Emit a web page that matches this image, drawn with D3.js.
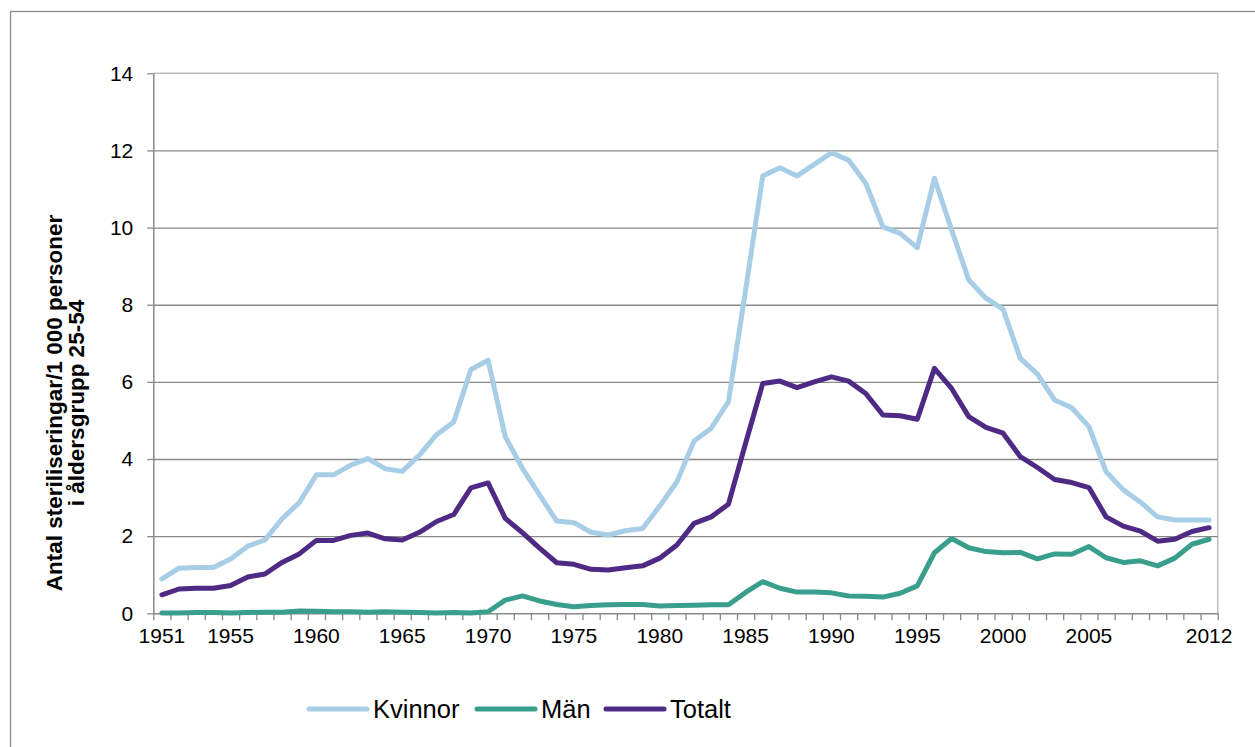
<!DOCTYPE html>
<html>
<head>
<meta charset="utf-8">
<script src="https://cdn.jsdelivr.net/npm/d3@7"></script>
<style>
  body { margin: 0; background: #fff; }
  svg { display: block; font-family: Arial, "Liberation Sans", sans-serif; }
  .tick text { fill: #000; font-size: 21px; font-family: Arial, "Liberation Sans", sans-serif; }
</style>
</head>
<body>
<svg id="chart" width="1255" height="747"></svg>
<script>
// Years on the category axis
const years = [
  1951, 1952, 1953, 1954, 1955, 1956, 1957, 1958, 1959, 1960,
  1961, 1962, 1963, 1964, 1965, 1966, 1967, 1968, 1969, 1970,
  1971, 1972, 1973, 1974, 1975, 1976, 1977, 1978, 1979, 1980,
  1981, 1982, 1983, 1984, 1985, 1986, 1987, 1988, 1989, 1990,
  1991, 1992, 1993, 1994, 1995, 1996, 1997, 1998, 1999, 2000,
  2001, 2002, 2003, 2004, 2005, 2006, 2007, 2008, 2009, 2010,
  2011, 2012
];

// Sterilisations per 1 000 persons, age group 25-54
const kvinnor = [
  0.89, 1.17, 1.19, 1.19, 1.41, 1.74, 1.90, 2.45, 2.87, 3.59,
  3.59, 3.84, 4.01, 3.75, 3.68, 4.10, 4.63, 4.96, 6.32, 6.56,
  4.58, 3.76, 3.07, 2.39, 2.35, 2.10, 2.03, 2.14, 2.20, 2.78,
  3.41, 4.47, 4.80, 5.49, 8.38, 11.34, 11.55, 11.34, 11.64, 11.94,
  11.75, 11.15, 10.02, 9.85, 9.48, 11.28, 9.94, 8.64, 8.17, 7.88,
  6.61, 6.20, 5.53, 5.33, 4.84, 3.67, 3.20, 2.88, 2.50, 2.42,
  2.42, 2.42
];
const man = [
  0.01, 0.01, 0.02, 0.02, 0.01, 0.02, 0.03, 0.03, 0.06, 0.05,
  0.04, 0.04, 0.03, 0.04, 0.03, 0.02, 0.01, 0.02, 0.01, 0.04,
  0.34, 0.45, 0.32, 0.23, 0.17, 0.20, 0.22, 0.23, 0.23, 0.19,
  0.20, 0.21, 0.22, 0.22, 0.54, 0.82, 0.65, 0.55, 0.55, 0.53,
  0.45, 0.44, 0.42, 0.52, 0.71, 1.57, 1.94, 1.70, 1.60, 1.57,
  1.58, 1.41, 1.54, 1.53, 1.73, 1.44, 1.32, 1.36, 1.23, 1.43,
  1.79, 1.92
];
const totalt = [
  0.48, 0.63, 0.65, 0.65, 0.72, 0.94, 1.02, 1.32, 1.54, 1.89,
  1.89, 2.02, 2.08, 1.93, 1.90, 2.10, 2.38, 2.56, 3.25, 3.38,
  2.46, 2.09, 1.69, 1.31, 1.27, 1.14, 1.12, 1.18, 1.23, 1.43,
  1.77, 2.33, 2.50, 2.83, 4.41, 5.96, 6.02, 5.85, 6.00, 6.13,
  6.02, 5.70, 5.14, 5.12, 5.03, 6.35, 5.83, 5.10, 4.82, 4.67,
  4.06, 3.78, 3.47, 3.39, 3.26, 2.50, 2.26, 2.13, 1.87, 1.92,
  2.12, 2.22
];

const xLabels = [1951, 1955, 1960, 1965, 1970, 1975, 1980, 1985, 1990, 1995, 2000, 2005, 2012];
const yTicks = [0, 2, 4, 6, 8, 10, 12, 14];
const seriesNames = ['Kvinnor', 'Män', 'Totalt'];
const seriesColors = ['#a8cde6', '#3a9e8c', '#4e2a84'];
const yTitle = ['Antal steriliseringar/1 000 personer', 'i åldersgrupp 25-54'];

// layout
const plotLeft = 153.3, plotRight = 1217.7, plotTop = 73.3, plotBottom = 613.3;
const gridColor = '#898989';

const svg = d3.select('#chart');

// outer chart frame (runs past the window on right and bottom)
svg.append('rect')
  .attr('x', 10.5).attr('y', 11.5)
  .attr('width', 1300).attr('height', 800)
  .attr('fill', '#fff')
  .attr('stroke', '#8c8c8c').attr('stroke-width', 1.3);

// scales
const x = d3.scaleBand(years, [plotLeft, plotRight]);
const xEdge = d3.scaleLinear([1951, 2013], [plotLeft, plotRight]);
const y = d3.scaleLinear([0, 14], [plotBottom, plotTop]);

// plot area border (top/right, light gray)
svg.append('path')
  .attr('d', `M${plotLeft},${plotTop}H${plotRight}V${plotBottom}`)
  .attr('fill', 'none')
  .attr('stroke', '#bdbdbd').attr('stroke-width', 1.5);

// gridlines
svg.append('g')
  .attr('transform', `translate(${plotLeft},0)`)
  .call(d3.axisLeft(y).tickValues(yTicks.slice(1, -1)).tickSize(-(plotRight - plotLeft)).tickFormat(''))
  .call(g => g.select('.domain').remove())
  .call(g => g.selectAll('line').attr('stroke', gridColor).attr('stroke-width', 1.3));

// y axis
svg.append('g')
  .attr('transform', `translate(${plotLeft},0)`)
  .call(d3.axisLeft(y).tickValues(yTicks).tickSize(6).tickSizeOuter(0).tickPadding(14))
  .call(g => g.select('.domain').attr('stroke', gridColor).attr('stroke-width', 1.5))
  .call(g => g.selectAll('line').attr('stroke', gridColor).attr('stroke-width', 1.3));

// x axis: boundary ticks
svg.append('g')
  .attr('transform', `translate(0,${plotBottom})`)
  .call(d3.axisBottom(xEdge).tickValues(d3.range(1951, 2014)).tickSize(7).tickSizeOuter(0).tickFormat(''))
  .call(g => g.select('.domain').attr('stroke', gridColor).attr('stroke-width', 1.5))
  .call(g => g.selectAll('line').attr('stroke', gridColor).attr('stroke-width', 1.3));

// x axis: category labels
svg.append('g')
  .attr('transform', `translate(0,${plotBottom})`)
  .call(d3.axisBottom(x).tickValues(xLabels).tickSize(0).tickPadding(15))
  .call(g => g.select('.domain').remove());

// y axis title
const title = svg.append('text')
  .attr('transform', 'rotate(-90)')
  .attr('text-anchor', 'middle')
  .attr('font-weight', 'bold')
  .attr('font-size', 22.5)
  .attr('fill', '#000');
title.append('tspan').attr('x', -403).attr('y', 62).text(yTitle[0]);
title.append('tspan').attr('x', -403).attr('y', 84).text(yTitle[1]);

// lines
const line = d3.line()
  .x((d, i) => x(years[i]) + x.bandwidth() / 2)
  .y(d => y(d));

[kvinnor, man, totalt].forEach((s, k) => {
  svg.append('path')
    .datum(s)
    .attr('d', line)
    .attr('fill', 'none')
    .attr('stroke', seriesColors[k])
    .attr('stroke-width', 5)
    .attr('stroke-linejoin', 'round')
    .attr('stroke-linecap', 'round');
});

// legend
const legendX = [309, 477, 606];
const legend = svg.append('g');
seriesNames.forEach((name, k) => {
  legend.append('line')
    .attr('x1', legendX[k]).attr('x2', legendX[k] + 58)
    .attr('y1', 709).attr('y2', 709)
    .attr('stroke', seriesColors[k])
    .attr('stroke-width', 5)
    .attr('stroke-linecap', 'round');
  legend.append('text')
    .attr('x', legendX[k] + 64)
    .attr('y', 718)
    .attr('font-size', 25.5)
    .attr('fill', '#000')
    .text(name);
});
</script>
</body>
</html>
